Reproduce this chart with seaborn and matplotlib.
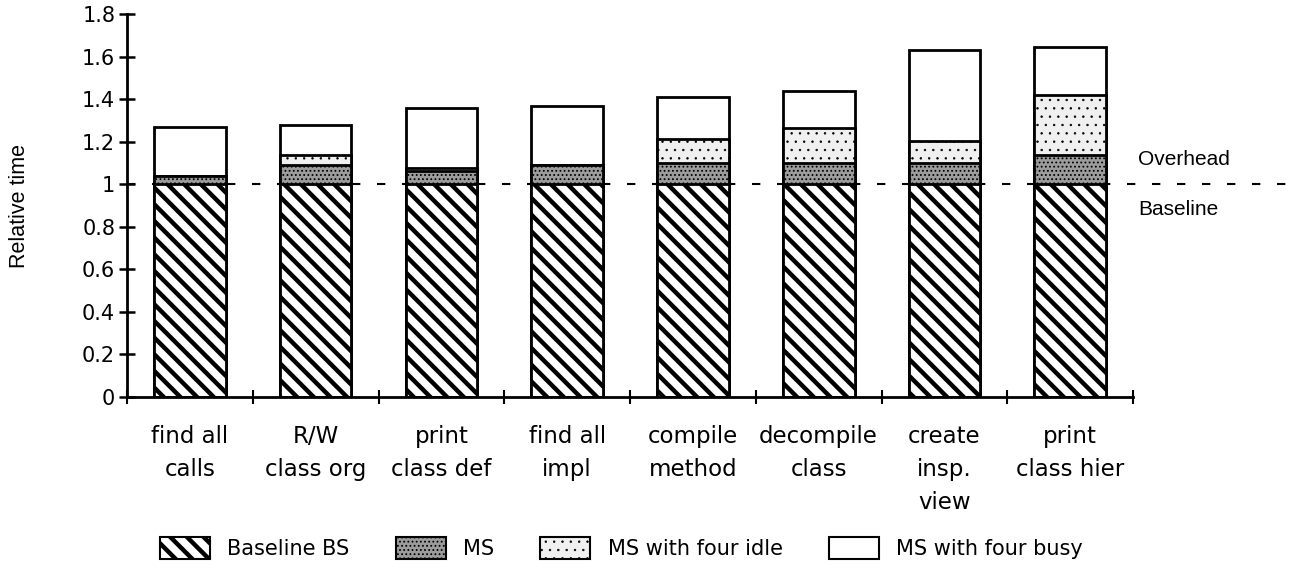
import numpy as np
import pandas as pd
import matplotlib
matplotlib.use('Agg')
import matplotlib.pyplot as plt
import seaborn as sns
from matplotlib.patches import Patch
from matplotlib.ticker import FixedLocator

# data (segment heights, stacked)
categories = ["find all\ncalls", "R/W\nclass org", "print\nclass def", "find all\nimpl",
              "compile\nmethod", "decompile\nclass", "create\ninsp.\nview", "print\nclass hier"]
baseline = [1.0, 1.0, 1.0, 1.0, 1.0, 1.0, 1.0, 1.0]
ms = [0.04, 0.09, 0.065, 0.09, 0.10, 0.10, 0.10, 0.14]
ms_idle = [0.0, 0.05, 0.01, 0.0, 0.115, 0.165, 0.105, 0.28]
ms_busy = [0.23, 0.14, 0.285, 0.28, 0.195, 0.175, 0.425, 0.225]
series = ["Baseline BS", "MS", "MS with four idle", "MS with four busy"]
ytick_labels = ['0', '0.2', '0.4', '0.6', '0.8', '1', '1.2', '1.4', '1.6', '1.8']

df = pd.DataFrame({"cat": categories, "Baseline BS": baseline, "MS": ms,
                   "MS with four idle": ms_idle, "MS with four busy": ms_busy})
tops = df[series].cumsum(axis=1)

sns.set_style("ticks")
plt.rcParams['font.family'] = ['Liberation Sans', 'DejaVu Sans']
plt.rcParams.update({'text.color': 'black', 'axes.labelcolor': 'black',
                     'xtick.color': 'black', 'ytick.color': 'black',
                     'axes.edgecolor': 'black'})
wide = ['DejaVu Sans']   # the old chart's labels are wide and loosely spaced

styles = {
    "Baseline BS": dict(color="white", hatch="\\\\", hlw=3.2),
    "MS": dict(color="#9c9c9c", hatch="....", hlw=0.8),
    "MS with four idle": dict(color="#f0f0f0", hatch="..", hlw=0.5),
    "MS with four busy": dict(color="white", hatch=None, hlw=1.0),
}

fig = plt.figure(figsize=(12.92, 5.68), dpi=100)
ax = fig.add_axes([0.0983, 0.301, 0.7787, 0.674])

# draw tallest first so the shorter stacks sit on top
for s in reversed(series):
    st = styles[s]
    n_before = len(ax.patches)
    with plt.rc_context({'hatch.linewidth': st["hlw"]}):
        sns.barplot(x=df["cat"], y=tops[s], color=st["color"], width=0.57, ax=ax,
                    edgecolor="black", linewidth=2.0, hatch=st["hatch"],
                    saturation=1, errorbar=None)
    for p in ax.patches[n_before:]:
        p.set_facecolor(st["color"])
        if hasattr(p, "set_hatch_linewidth"):
            p.set_hatch_linewidth(st["hlw"])

ax.set_ylim(0, 1.8)
ax.set_xlim(-0.5, 7.5)
ax.yaxis.set_major_locator(FixedLocator(np.arange(0, 1.81, 0.2)))
ax.set_yticklabels(ytick_labels, family=wide, fontsize=15)
ax.tick_params(axis='y', direction='inout', length=11, width=1.8, pad=3)
ax.tick_params(axis='x', which='major', length=0, pad=20)
ax.xaxis.set_minor_locator(FixedLocator(np.arange(-0.5, 7.6, 1.0)))
ax.tick_params(axis='x', which='minor', direction='inout', length=10, width=1.5)
ax.set_xticks(range(len(categories)))
ax.set_xticklabels(categories, family=wide, fontsize=16.5, linespacing=1.55, va='top')

sns.despine(ax=ax)
for sp in ["left", "bottom"]:
    ax.spines[sp].set_linewidth(2.0)

ax.set_xlabel("")
ax.set_ylabel("Relative time", fontsize=15.5)
ax.yaxis.set_label_coords(-0.096, 0.5)

# reference line at baseline, running past the axes to the figure edge
ax.axhline(1.0, xmin=0, xmax=1.16, color="black", lw=1.5, ls=(0, (4, 8)),
           clip_on=False, zorder=0.5)
ax.text(1.005, 1.115, "Overhead", transform=ax.get_yaxis_transform(),
        fontsize=15, va="center", ha="left")
ax.text(1.005, 0.88, "Baseline", transform=ax.get_yaxis_transform(),
        fontsize=15, va="center", ha="left")

handles = []
for s in series:
    st = styles[s]
    h = Patch(facecolor=st["color"], edgecolor="black", hatch=st["hatch"], linewidth=1.5)
    handles.append(h)
leg = fig.legend(handles, series, loc="center", bbox_to_anchor=(0.481, 0.035), ncol=4,
                 frameon=False, prop={'family': wide, 'size': 15},
                 handlelength=2.4, handleheight=1.3, columnspacing=2.2, handletextpad=0.85)
for p, s in zip(leg.get_patches(), series):
    if hasattr(p, "set_hatch_linewidth"):
        p.set_hatch_linewidth(styles[s]["hlw"])

plt.savefig("out.png", dpi=100)
plt.close()
